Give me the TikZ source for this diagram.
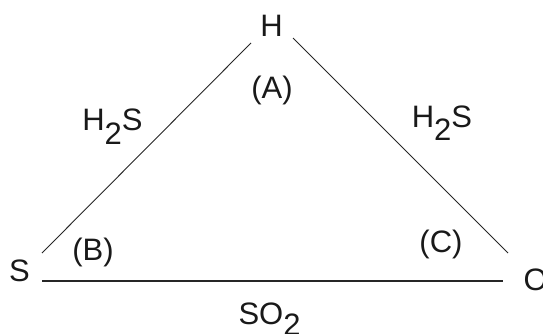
\documentclass[tikz,border=0pt]{standalone}
\usepackage{fontspec}
\setmainfont{Liberation Sans}
\begin{document}
\begin{tikzpicture}[x=1pt,y=-1pt,
  lbl/.style={inner sep=0pt,outer sep=0pt,font=\fontsize{31}{36}\selectfont,text=black!90},
  thinline/.style={line width=0.9pt,draw=black!85},
  thickline/.style={line width=2.2pt,draw=black!85}]
\useasboundingbox (0,0) rectangle (543,334);
% labels
\node[lbl,anchor=base] (H) at (271.5,37) {H};
\node[lbl,anchor=base] (A) at (272,99) {(A)};
\node[lbl,anchor=base] (lh2s) at (112.5,130) {H\raisebox{-14pt}{2}S};
\node[lbl,anchor=base] (rh2s) at (442,128) {H\raisebox{-13pt}{2}S};
\node[lbl,anchor=base] (S) at (19.5,281) {S};
\node[lbl,anchor=base] (B) at (93,260) {(B)};
\node[lbl,anchor=base] (C) at (441,252) {(C)};
\node[lbl,anchor=base west] (O) at (523.5,290) {O};
\node[lbl,anchor=base west] (so2) at (238.5,324) {SO\raisebox{-11pt}{2}};
% connector ends
\coordinate (sA) at (42,253);
\coordinate (hA) at (251,43);
\coordinate (hB) at (293,38);
\coordinate (oB) at (508,253);
\coordinate (sC) at (42,281);
\coordinate (oC) at (503,281);
\draw[thinline] (sA) -- (hA);
\draw[thinline] (hB) -- (oB);
\draw[thickline] (sC) -- (oC);
\end{tikzpicture}
\end{document}
